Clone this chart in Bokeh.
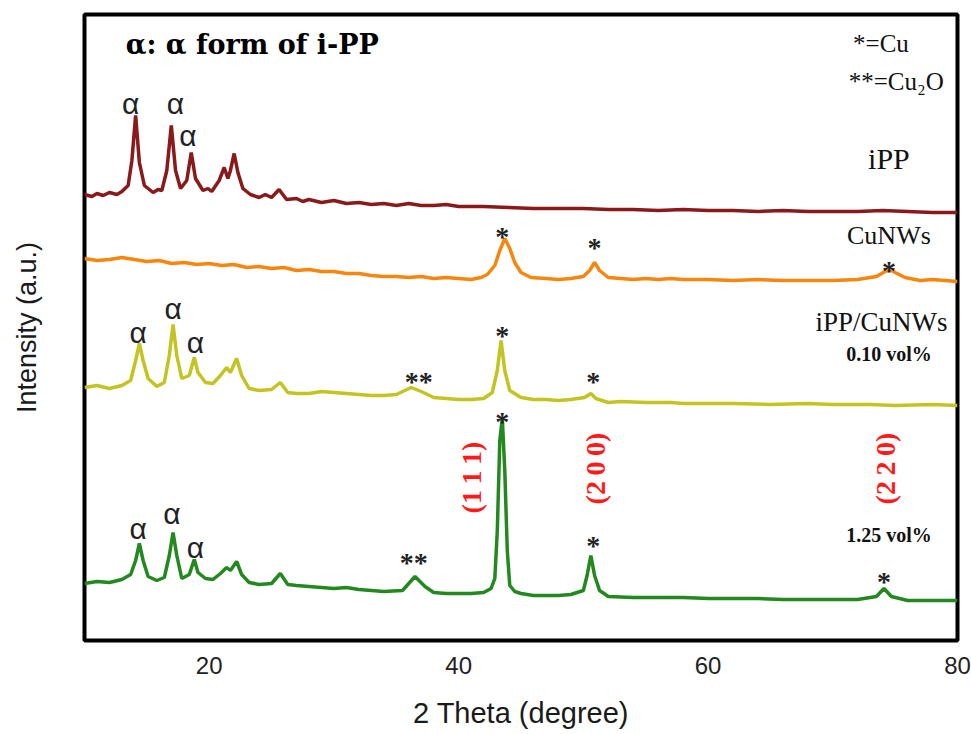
from bokeh.plotting import figure
from bokeh.models import Range1d, FixedTicker
from bokeh.core.properties import value
from bokeh.embed import file_html
from bokeh.resources import INLINE

# ---------------- data (offset intensities in a.u.) ----------------
ipp_x = [10, 10.6, 11, 11.5, 12, 12.6, 13, 13.5, 13.8, 14.1, 14.4, 14.8, 15.2, 15.5, 15.9, 16.2, 16.6, 16.96, 17.3, 17.7,
         18.2, 18.56, 18.9, 19.5, 19.9, 20.2, 20.8, 21.2, 21.5, 21.7, 22.0, 22.3, 22.7, 23.3, 24, 24.5, 25,
         25.6, 26.2, 27, 27.5, 28, 29, 30, 31, 32, 33, 34, 35, 36, 37, 38, 39, 40, 42, 44, 46, 48, 50, 52, 54, 56, 58, 60,
         62, 64, 66, 68, 70, 72, 74, 76, 78, 80]
ipp_y = [446, 444, 447, 445, 448, 446, 449, 455, 480, 525, 478, 455, 451, 448, 451, 450, 470, 515, 470, 452,
         460, 488, 462, 450, 452, 449, 460, 473, 462, 470, 487, 468, 452, 446, 443, 446, 443,
         451, 441, 442, 439, 441, 438, 440, 437, 438, 436, 437, 435, 437, 435, 435, 436, 434, 434, 433, 432, 432, 432, 431, 431, 430, 431, 430,
         430, 429, 430, 429, 429, 429, 430, 429, 428, 428]

cu_x = [10, 11, 12, 13, 14, 15, 16, 17, 18, 19, 20, 21, 22, 23, 24, 25, 26, 27, 28, 29, 30, 31, 32, 33, 34, 35,
        36, 37, 38, 39, 40, 41, 41.8, 42.3, 42.9, 43.3, 43.7, 44.1, 44.5, 45, 45.8, 47, 48, 49, 50, 50.5, 50.9,
        51.3, 52, 53, 54, 55, 56, 57, 58, 60, 62, 64, 66, 68, 70, 72, 73.5, 74.2, 74.6, 75, 75.8, 77, 78, 79, 80]
cu_y = [382, 380, 381, 383, 381, 379, 380, 377, 378, 376, 377, 375, 376, 373, 374, 372, 373, 370, 371, 369,
        369, 367, 367, 365, 364, 364, 363, 364, 362, 363, 362, 361, 363, 366, 375, 390, 402, 392, 378, 368,
        363, 362, 361, 362, 364, 370, 378, 370, 363, 362, 361, 362, 361, 362, 361, 361, 360, 361, 360, 360,
        360, 361, 364, 369, 371, 368, 363, 360, 361, 360, 359]

c010_x = [10, 11, 12, 13, 13.7, 14.1, 14.4, 14.7, 15.1, 15.8, 16.4, 16.8, 17.1, 17.4, 17.8, 18.4,
          18.8, 19.1, 19.7, 20.3, 20.9, 21.4, 21.7, 22.2, 22.6, 23.2, 24, 25, 25.7, 26.3, 27, 28,
          29, 30, 31, 32, 33, 34, 35, 36.2, 37, 38, 39, 40, 41, 42, 42.7, 43.1, 43.4, 43.7, 44.1,
          45, 46, 47, 48, 49, 50.1, 50.6, 51, 52, 53, 55, 57, 58, 60, 62, 65, 68, 70, 73, 75, 78, 80]
c010_y = [253, 255, 252, 255, 260, 280, 297, 280, 262, 254, 258, 285, 316, 285, 262, 265,
          283, 268, 258, 257, 265, 273, 268, 282, 265, 252, 250, 251, 258, 248, 247, 247,
          249, 248, 247, 246, 245, 245, 246, 253, 249, 243, 242, 241, 241, 242, 248, 270, 300, 270, 250,
          243, 241, 241, 240, 241, 243, 247, 242, 238, 239, 238, 238, 237, 237, 237, 236, 237, 236, 236, 235, 236, 235]

c125_x = [10, 11, 12, 13, 13.7, 14.1, 14.4, 14.7, 15.1, 15.8, 16.4, 16.8, 17.1, 17.4, 17.8, 18.4,
          18.8, 19.1, 19.7, 20.3, 20.9, 21.4, 21.7, 22.2, 22.6, 23.2, 24, 25, 25.7, 26.3, 27, 28,
          29, 30, 31, 32, 33, 34, 35.5, 36.5, 37.3, 38, 39, 40, 41, 42, 42.6, 42.9, 43.1, 43.3, 43.5, 43.7, 43.9,
          44.1, 44.5, 45, 46, 47, 48, 49, 50, 50.3, 50.6, 50.9, 51.3, 52, 54, 56, 58, 60, 62, 64, 66, 68,
          70, 72, 73.5, 74.1, 74.7, 76, 78, 80]
c125_y = [57, 59, 58, 61, 66, 80, 97, 80, 64, 60, 63, 85, 108, 85, 62, 66,
          81, 68, 62, 61, 67, 73, 70, 79, 66, 58, 56, 57, 67, 56, 55, 54,
          53, 52, 53, 51, 50, 49, 50, 64, 54, 48, 47, 47, 47, 48, 52, 62, 110, 200, 222, 170, 90,
          55, 49, 47, 45, 45, 45, 46, 50, 65, 85, 65, 50, 44, 43, 43, 43, 42, 42, 42, 41, 41,
          41, 41, 44, 52, 44, 40, 40, 40]

series_names = ["iPP", "CuNWs", "iPP/CuNWs 0.10 vol%", "iPP/CuNWs 1.25 vol%"]
series_x = [ipp_x, cu_x, c010_x, c125_x]
series_y = [ipp_y, cu_y, c010_y, c125_y]
series_colors = ["#8a1a1a", "#f7860f", "#c3c421", "#23891f"]

x_ticks = [20, 40, 60, 80]

# ---------------- figure ----------------
p = figure(width=971, height=734, output_backend="svg", toolbar_location=None,
           x_range=Range1d(10, 80), y_range=Range1d(0, 626),
           min_border_left=84, min_border_right=14, min_border_top=14, min_border_bottom=94)
p.grid.visible = False
p.background_fill_color = "white"
p.border_fill_color = "white"
p.outline_line_color = "black"
p.outline_line_width = 4
p.outline_line_alpha = 1.0

for xs, ys, c in zip(series_x, series_y, series_colors):
    p.line(xs, ys, line_color=c, line_width=3.5)

# x axis
p.xaxis.ticker = FixedTicker(ticks=x_ticks)
p.xaxis.major_tick_line_color = None
p.xaxis.minor_tick_line_color = None
p.xaxis.axis_line_color = None
p.xaxis.major_label_text_font = "Liberation Sans"
p.xaxis.major_label_text_font_size = "24px"
p.xaxis.major_label_text_color = "#222222"
p.xaxis.major_label_standoff = 10
p.xaxis.axis_label = "2 Theta (degree)"
p.xaxis.axis_label_text_font = "Liberation Sans"
p.xaxis.axis_label_text_font_style = "normal"
p.xaxis.axis_label_text_font_size = "29px"
p.xaxis.axis_label_text_color = "#1a1a1a"
p.xaxis.axis_label_standoff = 20

# y axis (label only)
p.yaxis.ticker = FixedTicker(ticks=[])
p.yaxis.major_tick_line_color = None
p.yaxis.minor_tick_line_color = None
p.yaxis.axis_line_color = None
p.yaxis.major_label_standoff = 0
p.yaxis.axis_label = "Intensity (a.u.)"
p.yaxis.axis_label_text_font = "Liberation Sans"
p.yaxis.axis_label_text_font_style = "normal"
p.yaxis.axis_label_text_font_size = "27px"
p.yaxis.axis_label_text_color = "#1a1a1a"
p.yaxis.axis_label_standoff = 43

serif = value("Liberation Serif")

# title-like annotation
p.text(x=[13.3], y=[596], text=["α: α form of i-PP"], text_font=value("DejaVu Serif"),
       text_font_style="bold", text_font_size="27px", text_color="black",
       text_align="left", text_baseline="middle")

# legend of symbols
p.text(x=[76.1], y=[597], text=["*=Cu"], text_font=serif, text_font_size="25px",
       text_color="#111111", text_align="right", text_baseline="middle")
p.text(x=[78.9], y=[559], text=["**=Cu₂O"], text_font=serif, text_font_size="25px",
       text_color="#111111", text_align="right", text_baseline="middle")

# sample labels
p.text(x=[74.5], y=[482], text=["iPP"], text_font=serif, text_font_size="30px",
       text_color="#111111", text_align="center", text_baseline="middle")
p.text(x=[74.5], y=[405], text=["CuNWs"], text_font=serif, text_font_size="26px",
       text_color="#111111", text_align="center", text_baseline="middle")
p.text(x=[73.9], y=[319], text=["iPP/CuNWs"], text_font=serif, text_font_size="27px",
       text_color="#111111", text_align="center", text_baseline="middle")
p.text(x=[74.5, 74.5], y=[287, 106], text=["0.10 vol%", "1.25 vol%"], text_font=serif,
       text_font_style="bold", text_font_size="20px", text_color="#111111",
       text_align="center", text_baseline="middle")

# Miller indices
p.text(x=[41.0, 50.98, 74.23], y=[163, 172, 172],
       text=["(1\u20091\u20091)", "(2\u20090\u20090)", "(2\u20092\u20090)"],
       text_font=serif, text_font_style="bold", text_font_size="28px", text_color="#ff1a1a",
       angle=1.5708, text_align="center", text_baseline="middle")

# alpha markers
alpha_x = [13.7, 17.3, 18.3, 14.3, 17.1, 18.9, 14.3, 17.0, 18.9]
alpha_y = [537, 537, 505, 308, 332, 298, 112, 127, 93]
p.text(x=alpha_x, y=alpha_y, text=["α"] * 9, text_font=value("Liberation Sans"),
       text_font_size="30px", text_color="#222222", text_align="center", text_baseline="middle")

# asterisks
ast_x = [43.5, 50.9, 74.5, 43.5, 36.8, 50.8, 43.5, 36.4, 50.8, 74.1]
ast_y = [404, 393, 370, 305, 259, 259, 219, 78, 95, 59]
ast_t = ["*", "*", "*", "*", "**", "*", "*", "**", "*", "*"]
p.text(x=ast_x, y=ast_y, text=ast_t, text_font=serif, text_font_style="bold",
       text_font_size="28px", text_color="#222222", text_align="center", text_baseline="middle")

open("out.html", "w").write(file_html(p, INLINE))
